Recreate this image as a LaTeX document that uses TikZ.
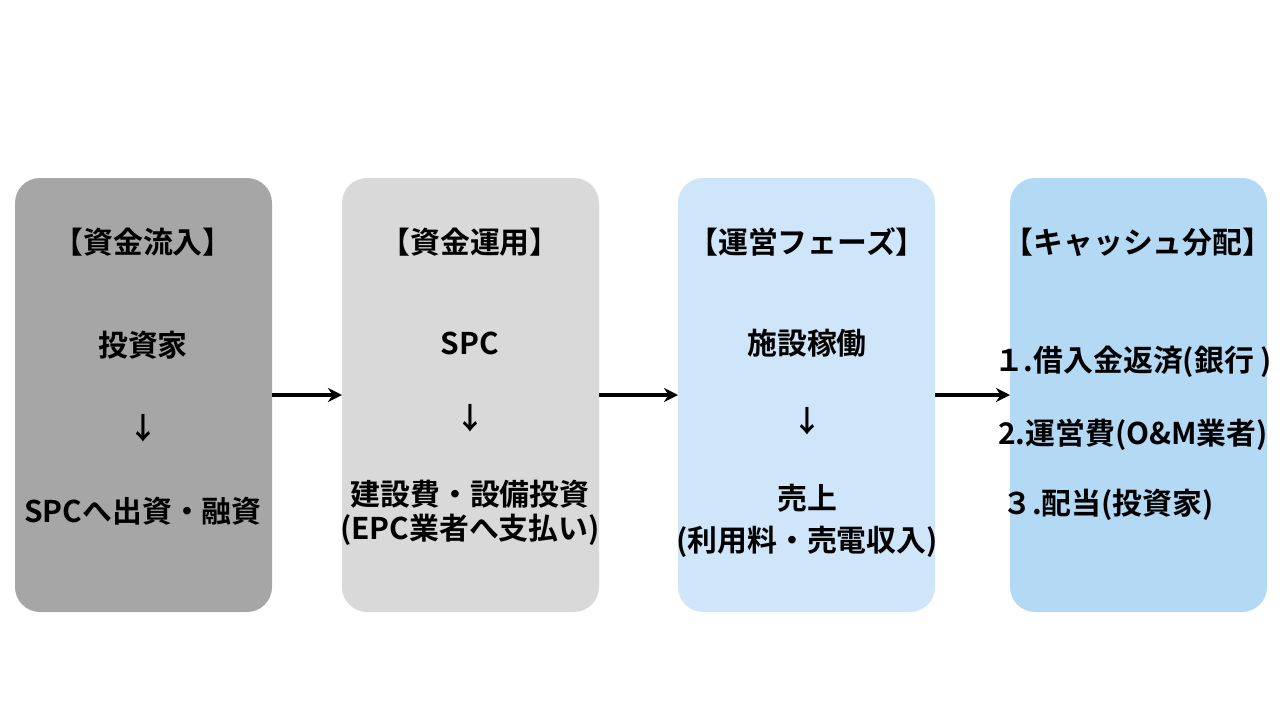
\documentclass[tikz,border=0pt]{standalone}
\usepackage{fontspec}
\setmainfont{Noto Sans CJK JP}[BoldFont={* Bold}]
\usetikzlibrary{arrows.meta}
\definecolor{c1}{HTML}{A6A6A6}
\definecolor{c2}{HTML}{D9D9D9}
\definecolor{c3}{HTML}{CFE5F9}
\definecolor{c4}{HTML}{B3D9F5}
\begin{document}
\begin{tikzpicture}[x=0.02cm,y=-0.02cm,
 box/.style={rounded corners=0.5cm,draw=none},
 t/.style={font=\fontsize{17}{20}\selectfont\bfseries,inner sep=0pt,align=center},
 arr/.style={-{Stealth[length=8pt,width=8pt]},line width=2pt}]
\useasboundingbox (0,0) rectangle (1280,720);
\fill[box,c1] (15,178) rectangle (272,612);
\fill[box,c2] (342,178) rectangle (599,612);
\fill[box,c3] (678,178) rectangle (935,612);
\fill[box,c4] (1010,178) rectangle (1267,612);
\coordinate (b1r) at (272,395); \coordinate (b2l) at (342,395);
\coordinate (b2r) at (599,395); \coordinate (b3l) at (678,395);
\coordinate (b3r) at (935,395); \coordinate (b4l) at (1010,395);
\draw[arr] (b1r) -- (b2l);
\draw[arr] (b2r) -- (b3l);
\draw[arr] (b3r) -- (b4l);
\node[t] (a1) at (143,242) {【資金流入】};
\node[t] (a2) at (143,345) {投資家};
\node[t] (a3) at (143,428) {↓};
\node[t] (a4) at (143,511) {SPCへ出資・融資};
\node[t] (b1) at (470,242) {【資金運用】};
\node[t] (b2) at (470,343) {SPC};
\node[t] (b3) at (470,418) {↓};
\node[t] (b4) at (470,494) {建設費・設備投資};
\node[t] (b5) at (470,530) {(EPC業者へ支払い)};
\node[t] (c1n) at (807,242) {【運営フェーズ】};
\node[t] (c2n) at (807,343) {施設稼働};
\node[t] (c3n) at (807,421) {↓};
\node[t] (c4n) at (807,498) {売上};
\node[t] (c5n) at (807,542) {(利用料・売電収入)};
\node[t] (d1) at (1138,242) {【キャッシュ分配】};
\node[t] (d2) at (1133,362) {１.借入金返済(銀行 )};
\node[t] (d3) at (1133,435) {2.運営費(O\&M業者)};
\node[t] (d4) at (1108,505) {３.配当(投資家)};
\end{tikzpicture}
\end{document}
